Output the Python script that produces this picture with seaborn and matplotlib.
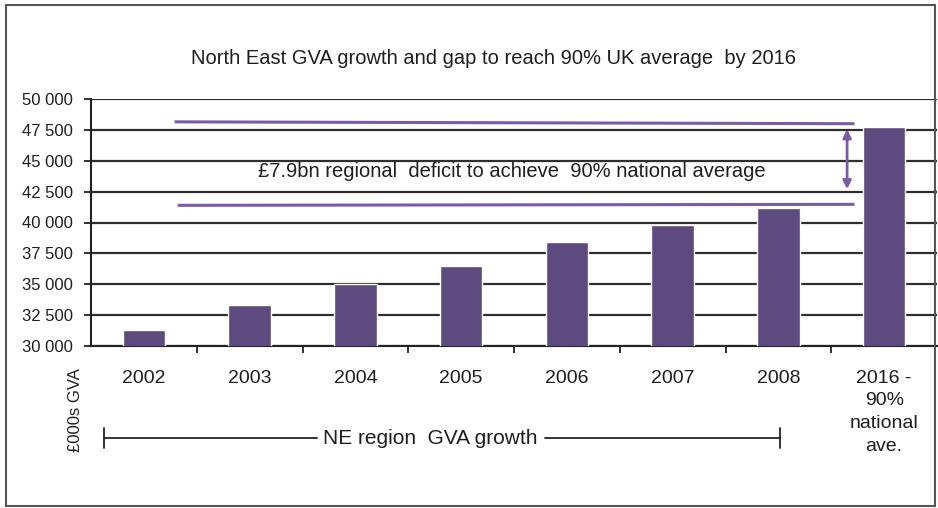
import matplotlib
matplotlib.use("Agg")
import matplotlib.pyplot as plt
from matplotlib.patches import Rectangle
from matplotlib.lines import Line2D
import seaborn as sns
import pandas as pd

# GVA per head, North East region (£000s)
years = ["2002", "2003", "2004", "2005", "2006", "2007", "2008",
         "2016 -\n90%\nnational\nave."]
gva = [31300, 33300, 35050, 36500, 38400, 39800, 41150, 47750]

y_ticks = [30000, 32500, 35000, 37500, 40000, 42500, 45000, 47500, 50000]

target_level = 48050      # 90% national average line
current_level = 41430     # latest NE level line

title = "North East GVA growth and gap to reach 90% UK average  by 2016"
gap_text = "£7.9bn regional  deficit to achieve  90% national average"

sns.set_theme(style="white")
plt.rcParams["font.family"] = ["Liberation Sans", "DejaVu Sans"]

BAR = "#5d4a7e"
LINE = "#7a5ca6"
TXT = "#1e1e1e"
W, H = 938, 508

fig = plt.figure(figsize=(W / 100, H / 100), dpi=100)
ax = fig.add_axes([91 / W, 1 - 346 / H, (937 - 91) / W, (346 - 99) / H])

df = pd.DataFrame({"year": years, "gva": gva})
sns.barplot(data=df, x="year", y="gva", color=BAR, saturation=1, width=0.4,
            ax=ax, zorder=3)

ax.set_ylim(30000, 50000)
ax.set_xlim(-0.5, len(years) - 0.5)
ax.set_yticks(y_ticks)
ax.set_yticklabels([f"{v:,}".replace(",", " ") for v in y_ticks],
                   fontsize=12, color=TXT)
ax.yaxis.grid(True, color="#2e2e2e", lw=1.6, zorder=1)
ax.set_axisbelow(True)

# category labels centred, tick marks on category boundaries
ax.set_xticks([i - 0.5 for i in range(1, len(years))])
ax.set_xticklabels([])
ax.set_xticks(range(len(years)), minor=True)
ax.set_xticklabels(years, minor=True, fontsize=14, color=TXT, va="top",
                   linespacing=1.45)
ax.tick_params(axis="x", which="major", length=5, width=1.3, color="#222222",
               direction="out", bottom=True)
ax.tick_params(axis="x", which="minor", length=0, pad=17)
ax.tick_params(axis="y", length=5, width=1.3, color="#222222",
               direction="out", left=True, pad=8)
ax.set_xlabel("")
ax.set_ylabel("")

for side in ["top", "right"]:
    ax.spines[side].set_visible(False)
for side in ["left", "bottom"]:
    ax.spines[side].set_color("#222222")
    ax.spines[side].set_linewidth(1.5)

# gap annotation
ax.plot([0.29, 6.72], [target_level + 100, target_level - 50], color=LINE,
        lw=2.2, zorder=4, solid_capstyle="butt")
ax.plot([0.32, 6.72], [current_level - 40, current_level + 40], color=LINE,
        lw=2.2, zorder=4, solid_capstyle="butt")
ax.annotate("", xy=(6.65, 47550), xytext=(6.65, 42700),
            arrowprops=dict(arrowstyle="<|-|>", color=LINE, lw=2,
                            mutation_scale=12, shrinkA=0, shrinkB=0),
            zorder=5)
ax.text(3.48, 43660, gap_text, ha="center", va="baseline", fontsize=14.5,
        color=TXT, zorder=5)

fig.text(493 / W, 1 - 64 / H, title, ha="center", va="baseline",
         fontsize=14.5, color=TXT)

fig.text(75 / W, 1 - 410 / H, "£000s GVA", rotation=90, ha="center",
         va="center", fontsize=12, color=TXT)

# bracket spanning the historic years
def fig_line(xs, ys):
    fig.add_artist(Line2D([x / W for x in xs], [1 - y / H for y in ys],
                          color="#222222", lw=1.3))

fig_line([104, 317], [438, 438])
fig_line([545, 780], [438, 438])
fig_line([104, 104], [428, 448])
fig_line([780, 780], [428, 448])
fig.text(430 / W, 1 - 438 / H, "NE region  GVA growth", ha="center",
         va="center", fontsize=15, color=TXT)

fig.add_artist(Rectangle((6 / W, 1 - 506 / H), (935 - 6) / W, (506 - 5) / H,
                         transform=fig.transFigure, fill=False,
                         edgecolor="#555555", lw=1.5))

fig.savefig("out.png", dpi=100)
